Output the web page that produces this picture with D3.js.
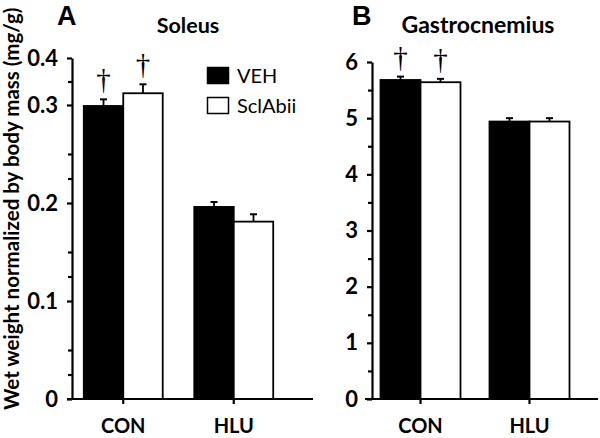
<!DOCTYPE html>
<html><head><meta charset="utf-8">
<script src="https://cdn.jsdelivr.net/npm/d3@7"></script>
<style>body{margin:0;background:#fff}svg{display:block}</style>
</head><body>
<svg id="c" width="600" height="438"></svg>
<script>
// ---------- data ----------
const categories = ["CON", "HLU"];
const seriesNames = ["VEH", "SclAbii"];
const seriesFill = ["#000", "#fff"];

const soleusVEH = [0.299, 0.196];
const soleusVEHErr = [0.013, 0.005];
const soleusScl = [0.325, 0.181];
const soleusSclErr = [0.019, 0.0075];
const soleusSig = [[true, true], [false, false]];
const soleusMajorTicks = [0, 0.1, 0.2, 0.3, 0.4];
const soleusMajorLabels = ["0", "0.1", "0.2", "0.3", "0.4"];
const soleusMinorTicks = [0.025, 0.05, 0.125, 0.15, 0.225, 0.25, 0.35];

const gastroVEH = [5.68, 4.94];
const gastroVEHErr = [0.06, 0.06];
const gastroScl = [5.64, 4.94];
const gastroSclErr = [0.06, 0.06];
const gastroSig = [[true, true], [false, false]];
const gastroMajorTicks = [0, 1, 2, 3, 4, 5, 6];
const gastroMajorLabels = ["0", "1", "2", "3", "4", "5", "6"];
const gastroMinorTicks = [0.5, 1.5, 2.5, 3.5, 4.5, 5.5];

const yTitle = "Wet weight normalized by body mass (mg/g)";

// ---------- drawing ----------
const svg = d3.select("#c");
const FONT = "Lato, 'Open Sans', sans-serif";

function panel(cfg) {
  const g = svg.append("g");
  const y = d3.scaleLinear().domain(cfg.yDomain).range(cfg.yRange);
  const x0 = d3.scaleBand().domain(categories).range(cfg.xRange).padding(0);
  const x1 = d3.scaleBand().domain(seriesNames).range([0, x0.bandwidth()])
    .paddingInner(0).paddingOuter(cfg.outerPad);

  const rows = [];
  categories.forEach((c, i) => {
    seriesNames.forEach((s, j) => {
      const vals = j === 0 ? cfg.veh : cfg.scl;
      const errs = j === 0 ? cfg.vehErr : cfg.sclErr;
      rows.push({c, s, j, v: vals[i], e: errs[i], sig: cfg.sig[i][j]});
    });
  });

  // bars
  g.selectAll("rect.bar").data(rows).join("rect")
    .attr("x", d => x0(d.c) + x1(d.s))
    .attr("y", d => y(d.v))
    .attr("width", x1.bandwidth())
    .attr("height", d => y(0) - y(d.v))
    .attr("fill", d => seriesFill[d.j])
    .attr("stroke", "#000").attr("stroke-width", 1.8);

  // error bars
  const cx = d => x0(d.c) + x1(d.s) + x1.bandwidth() / 2;
  g.selectAll("line.err").data(rows).join("line")
    .attr("x1", cx).attr("x2", cx)
    .attr("y1", d => y(d.v)).attr("y2", d => y(d.v + d.e))
    .attr("stroke", "#000").attr("stroke-width", 1.8);
  g.selectAll("line.cap").data(rows).join("line")
    .attr("x1", d => cx(d) - 3.5).attr("x2", d => cx(d) + 3.5)
    .attr("y1", d => y(d.v + d.e)).attr("y2", d => y(d.v + d.e))
    .attr("stroke", "#000").attr("stroke-width", 2);

  // significance daggers
  g.selectAll("text.sig").data(rows.filter(d => d.sig)).join("text")
    .attr("x", cx)
    .attr("y", d => y(d.v + d.e) - 10)
    .attr("text-anchor", "middle")
    .attr("font-family", "'Liberation Serif', serif")
    .attr("font-size", 29)
    .text("\u2020");

  // y axis
  const yAxis = d3.axisLeft(y).tickValues(cfg.majors)
    .tickFormat((d, i) => cfg.majorLabels[i])
    .tickSize(5).tickSizeOuter(0).tickPadding(cfg.tickPad);
  const ya = g.append("g").attr("transform", `translate(${cfg.axisX},0)`).call(yAxis);
  ya.select(".domain").attr("stroke-width", 2.2);
  ya.selectAll(".tick line").attr("stroke-width", 2.2);
  ya.selectAll(".tick text").attr("font-family", FONT).attr("font-weight", "bold")
    .attr("font-size", 22).attr("fill", "#000");
  const yMinor = d3.axisLeft(y).tickValues(cfg.minors).tickFormat("").tickSize(4).tickSizeOuter(0);
  const ym = g.append("g").attr("transform", `translate(${cfg.axisX},0)`).call(yMinor);
  ym.select(".domain").remove();
  ym.selectAll(".tick line").attr("stroke-width", 2.2);

  // x axis
  const xAxis = d3.axisBottom(x0).tickSize(5).tickSizeOuter(0).tickPadding(15);
  const xa = g.append("g").attr("transform", `translate(0,${y(0)})`).call(xAxis);
  xa.select(".domain").remove();
  xa.selectAll(".tick line").attr("stroke-width", 2.2);
  xa.selectAll(".tick text").attr("font-family", FONT).attr("font-weight", "bold")
    .attr("font-size", 20).attr("fill", "#000");
  g.append("line").attr("x1", cfg.baseX[0]).attr("x2", cfg.baseX[1])
    .attr("y1", y(0)).attr("y2", y(0)).attr("stroke", "#000").attr("stroke-width", 2.2);

  // titles
  g.append("text").attr("x", cfg.titleX).attr("y", 33).attr("text-anchor", "middle")
    .attr("font-family", FONT).attr("font-weight", "bold").attr("font-size", cfg.titleSize).text(cfg.title);
  g.append("text").attr("x", cfg.letterX).attr("y", 25)
    .attr("font-family", "'Liberation Sans', Arial, sans-serif").attr("font-weight", "bold")
    .attr("font-size", 27).text(cfg.letter);
  return {x0, x1, y};
}

panel({
  yDomain: [0, 0.3, 0.4], yRange: [399, 105, 58],
  xRange: [68, 289], outerPad: 0.4, axisX: 72, tickPad: 9,
  baseX: [67, 313],
  veh: soleusVEH, vehErr: soleusVEHErr, scl: soleusScl, sclErr: soleusSclErr, sig: soleusSig,
  majors: soleusMajorTicks, majorLabels: soleusMajorLabels, minors: soleusMinorTicks,
  title: "Soleus", titleX: 188, titleSize: 21.5, letter: "A", letterX: 57
});

panel({
  yDomain: [0, 6], yRange: [399, 62],
  xRange: [366, 584], outerPad: 0.3625, axisX: 372, tickPad: 9,
  baseX: [365, 598],
  veh: gastroVEH, vehErr: gastroVEHErr, scl: gastroScl, sclErr: gastroSclErr, sig: gastroSig,
  majors: gastroMajorTicks, majorLabels: gastroMajorLabels, minors: gastroMinorTicks,
  title: "Gastrocnemius", titleX: 478, titleSize: 23, letter: "B", letterX: 352
});

// legend
const leg = svg.append("g");
seriesNames.forEach((s, j) => {
  leg.append("rect").attr("x", 207.5).attr("y", 67.5 + j * 30).attr("width", 21).attr("height", 16)
    .attr("fill", seriesFill[j]).attr("stroke", "#000").attr("stroke-width", 1.5);
  leg.append("text").attr("x", 237).attr("y", 83 + j * 30)
    .attr("font-family", FONT).attr("font-size", 20).attr("fill", "#000").text(s);
});

// y axis title
svg.append("text").attr("transform", "translate(19,410) rotate(-90)")
  .attr("font-family", FONT).attr("font-weight", "bold").attr("font-size", 20.5)
  .text(yTitle);
</script>
</body></html>
